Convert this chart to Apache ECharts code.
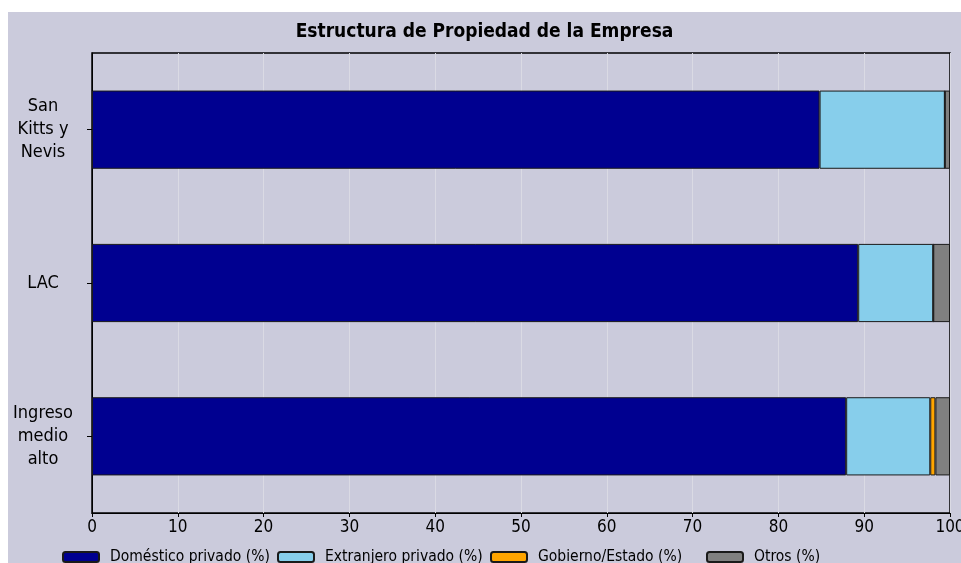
<!DOCTYPE html>
<html><head><meta charset="utf-8">
<script src="https://cdn.jsdelivr.net/npm/echarts@6/dist/echarts.min.js"></script>
<style>
html,body{margin:0;padding:0;background:#fff;width:961px;height:563px;overflow:hidden;}
#c{position:absolute;left:8px;top:12px;width:953px;height:551px;background:#CBCBDC;}
</style></head><body>
<div id="c"></div>
<script>
const categories = ['San\nKitts y\nNevis', 'LAC', 'Ingreso\nmedio\nalto'];
const seriesNames = ['Doméstico privado (%)', 'Extranjero privado (%)', 'Gobierno/Estado (%)', 'Otros (%)'];
const domestico = [84.8, 89.3, 87.9];
const extranjero = [14.6, 8.75, 9.8];
const gobierno = [0, 0, 0.6];
const otros = [0.6, 1.95, 1.7];
const xTicks = [0, 10, 20, 30, 40, 50, 60, 70, 80, 90, 100];

const colors = ['#000090', '#87CEEB', '#FFA500', '#808080'];
const values = [domestico, extranjero, gobierno, otros];
const FONT = '"Liberation Sans Narrow", "DejaVu Sans Condensed", sans-serif';

const chart = echarts.init(document.getElementById('c'), null, {renderer: 'canvas'});
const legendLefts = [54, 269, 482, 698];
chart.setOption({
  animation: false,
  title: {
    text: 'Estructura de Propiedad de la Empresa',
    left: 'center', top: 6,
    textStyle: {fontFamily: FONT, fontSize: 19, fontWeight: 'bold', color: '#000'}
  },
  legend: seriesNames.map((n, i) => ({
    data: [n], left: legendLefts[i], top: 537, padding: 0,
    itemWidth: 36, itemHeight: 10, itemGap: 10,
    textStyle: {fontFamily: FONT, fontSize: 15.5, color: '#000', padding: [0, 0, 0, 6]},
    selectedMode: false
  })),
  grid: {left: 84, right: 11, top: 41, bottom: 50, show: true, borderColor: '#000', borderWidth: 1.5,
    backgroundColor: 'transparent', containLabel: false, outerBoundsMode: 'none'},
  xAxis: {
    type: 'value', min: 0, max: 100, interval: 10,
    axisLine: {show: true, lineStyle: {color: '#000'}},
    axisTick: {show: true, length: 4, lineStyle: {color: '#000'}},
    axisLabel: {fontFamily: FONT, fontSize: 17, color: '#000', margin: 6,
      formatter: v => xTicks.includes(v) ? String(v) : ''},
    splitLine: {show: true, lineStyle: {color: '#DADAE4', width: 1}}
  },
  yAxis: {
    type: 'category', data: categories, inverse: true,
    axisLine: {show: true, lineStyle: {color: '#000'}},
    axisTick: {show: true, length: 5, alignWithLabel: true, lineStyle: {color: '#000'}},
    axisLabel: {fontFamily: FONT, fontSize: 18, color: '#000', lineHeight: 23, align: 'center', margin: 49}
  },
  series: seriesNames.map((n, i) => ({
    name: n, type: 'bar', stack: 'total', data: values[i],
    barWidth: '51%',
    itemStyle: {color: colors[i], borderColor: '#1a1a1a', borderWidth: 1},
    emphasis: {disabled: true}
  }))
});
</script></body></html>
